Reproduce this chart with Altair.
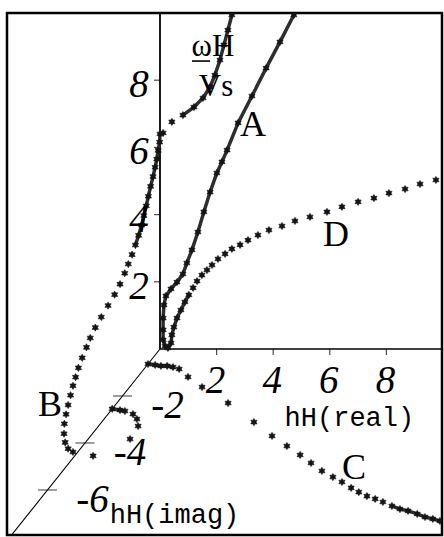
import altair as alt
import pandas as pd

# Oblique projection of the (Re hH, Im hH, omega*H/Vs) frame onto the page:
# one unit of Im hH moves a point KX units of Re hH sideways and KY units of omega downwards.
KX = 0.6625
KY = 0.6994
X_DOMAIN = [-5.406, 9.965]
Y_DOMAIN = [-5.536, 10.0]

# Branch A (Im hH = 0), from the top of the frame down to the origin
A_RE = [4.73, 4.24, 3.75, 3.25, 2.76, 2.37, 2.19, 2.01, 1.77, 1.55, 1.34, 1.13,
        0.95, 0.81, 0.60, 0.39, 0.21, 0.14, 0.11, 0.11, 0.11, 0.18, 0.28]
A_OM = [9.94, 9.14, 8.36, 7.53, 6.73, 5.92, 5.57, 5.24, 4.67, 4.08, 3.48, 2.95,
        2.56, 2.23, 1.99, 1.79, 1.58, 1.31, 0.92, 0.57, 0.27, 0.09, 0.03]

# Branch D (Im hH = 0), leaving the origin towards large Re hH
D_RE = [0.39, 0.42, 0.49, 0.60, 0.74, 0.88, 1.02, 1.17, 1.31, 1.48, 1.66, 1.84,
        2.05, 2.30, 2.54, 2.83, 3.11, 3.46, 3.85, 4.31, 4.77, 5.30, 5.90, 6.43,
        7.00, 7.56, 8.09, 8.66, 9.19, 9.75]
D_OM = [0.18, 0.42, 0.65, 0.92, 1.16, 1.40, 1.61, 1.82, 2.02, 2.20, 2.35, 2.50,
        2.68, 2.83, 2.98, 3.10, 3.24, 3.39, 3.54, 3.66, 3.81, 3.93, 4.08, 4.23,
        4.38, 4.49, 4.64, 4.76, 4.91, 5.03]

# Branch B (Re hH = 0), from the omega axis down to the Im hH axis
B_IM = [0.0, -0.02, -0.10, -0.17, -0.26, -0.37, -0.50, -0.62, -0.73, -0.86, -0.98,
        -1.14, -1.31, -1.49, -1.69, -1.88, -2.13, -2.42, -2.77, -3.13, -3.45, -3.72,
        -3.92, -4.15, -4.35, -4.50, -4.64, -4.77, -4.90, -5.01, -5.10, -5.12, -5.06,
        -4.90, -4.64]
B_OM = [6.40, 6.17, 5.98, 5.77, 5.59, 5.39, 5.19, 4.98, 4.77, 4.57, 4.37, 4.18,
        4.01, 3.85, 3.71, 3.57, 3.42, 3.31, 3.23, 3.14, 3.05, 2.93, 2.79, 2.64,
        2.48, 2.31, 2.15, 1.96, 1.76, 1.56, 1.34, 1.06, 0.76, 0.46, 0.18]

# Continuation of B above omega = 6.4 (Im hH = 0)
E_RE = [0.11, 0.42, 0.81, 1.20, 1.52, 1.77, 1.94, 2.12, 2.26, 2.40, 2.54]
E_OM = [6.43, 6.76, 6.96, 7.20, 7.47, 7.80, 8.15, 8.60, 9.05, 9.49, 9.94]

# Branch C (omega = 0), in the Re-Im plane
C_RE = [0.0, 0.28, 0.51, 0.73, 0.97, 1.24, 1.78, 2.56, 3.93, 5.38, 6.41, 7.22,
        7.94, 8.55, 9.16, 9.72, 10.18, 10.67, 11.06, 11.46, 11.83, 12.19, 12.62,
        12.99, 13.33, 13.74, 14.10, 14.43, 14.74]
C_IM = [-0.64, -0.68, -0.72, -0.72, -0.77, -0.85, -1.19, -1.62, -2.30, -3.11,
        -3.70, -4.13, -4.51, -4.85, -5.19, -5.45, -5.66, -5.91, -6.09, -6.26,
        -6.38, -6.51, -6.68, -6.81, -6.89, -7.02, -7.15, -7.23, -7.32]

# Short loop at omega = 0 between Im hH = -2.5 and -4.6
F_RE = [0.0, 0.31, 0.51, 0.88, 1.16, 1.40, 1.48, 0.65]
F_IM = [-2.55, -2.60, -2.64, -2.77, -2.98, -3.28, -3.83, -4.55]

OM_TICKS = [2, 4, 6, 8]
RE_TICKS = [2, 4, 6, 8]
IM_TICKS = [-2, -4, -6]

CURVE_NAMES = ["A", "B", "C", "D"]
NAME_RE = [3.29, 0.0, 10.21, 6.22]
NAME_IM = [0.0, -5.87, -5.06, 0.0]
NAME_OM = [6.67, 2.44, 0.0, 3.39]


def branch(name, re=None, im=None, om=None, runs=()):
    n = len(next(v for v in (re, im, om) if v is not None))
    re = re or [0.0] * n
    im = im or [0.0] * n
    om = om or [0.0] * n
    rows = []
    for k in range(n):
        run = None
        for i, (a, b) in enumerate(runs):
            if a <= k <= b:
                run = f"{name}{i}"
        rows.append({"curve": name, "k": k, "re": re[k], "im": im[k], "om": om[k], "run": run})
    return rows


AD_RE = A_RE + D_RE
AD_OM = A_OM + D_OM
rows = []
rows += branch("AD", re=AD_RE, om=AD_OM, runs=[(0, len(A_RE) + 6)])
rows += branch("E", re=E_RE, om=E_OM, runs=[(2, len(E_RE) - 1)])
rows += branch("B", im=B_IM, om=B_OM, runs=[(0, 12)])
rows += branch("C", re=C_RE, im=C_IM, runs=[(0, 4), (22, len(C_RE) - 1)])
rows += branch("F", re=F_RE, im=F_IM, runs=[(0, 2)])
pts = pd.DataFrame(rows)
dense = pts[pts["run"].notna()]

PROJ_X = f"datum.re + {KX}*datum.im"
PROJ_Y = f"datum.om + {KY}*datum.im"

X = alt.X("px:Q", scale=alt.Scale(domain=X_DOMAIN, nice=False, zero=False), axis=None)
Y = alt.Y("py:Q", scale=alt.Scale(domain=Y_DOMAIN, nice=False, zero=False), axis=None)


def projected(df):
    return alt.Chart(df).transform_calculate(px=PROJ_X, py=PROJ_Y)


STAR = ("M0,-1L0.29,-0.5L0.87,-0.5L0.58,0L0.87,0.5L0.29,0.5L0,1L-0.29,0.5"
        "L-0.87,0.5L-0.58,0L-0.87,-0.5L-0.29,-0.5Z")

# Axis lines: omega axis, Re axis (bottom of the box) and the oblique Im axis
axes_df = pd.DataFrame({
    "re": [0, 0, 0], "im": [0, 0, 0], "om": [0, 0, 0],
    "re2": [0, 10.5, 0], "im2": [0, 0, -8.2], "om2": [10.5, 0, 0],
    "w": [1.8, 1.6, 1.1],
})
axes = alt.Chart(axes_df).transform_calculate(
    px=PROJ_X, py=PROJ_Y,
    px2=f"datum.re2 + {KX}*datum.im2", py2=f"datum.om2 + {KY}*datum.im2",
).mark_rule(color="black", clip=True).encode(
    x=X, y=Y, x2="px2:Q", y2="py2:Q",
    strokeWidth=alt.StrokeWidth("w:Q", scale=None),
)

om_df = pd.DataFrame({"re": 0.0, "im": 0.0, "om": OM_TICKS, "t": [str(v) for v in OM_TICKS]})
re_df = pd.DataFrame({"re": RE_TICKS, "im": 0.0, "om": 0.0, "t": [str(v) for v in RE_TICKS]})
im_df = pd.DataFrame({"re": 0.0, "im": IM_TICKS, "om": 0.0, "t": [f"-{abs(v)}" for v in IM_TICKS]})

om_ticks = projected(om_df).mark_tick(orient="horizontal", size=6, thickness=1.2,
                                      xOffset=-3, color="black").encode(x=X, y=Y)
re_ticks = projected(re_df).mark_tick(orient="vertical", size=6, thickness=1.2,
                                      yOffset=3, color="black").encode(x=X, y=Y)
im_ticks = projected(im_df).mark_tick(orient="horizontal", size=19, thickness=1.1,
                                      color="black").encode(x=X, y=Y)

DIGITS = dict(font="Liberation Serif", fontStyle="italic", fontSize=39,
              align="center", baseline="middle", color="black")
om_labels = projected(om_df).mark_text(dx=-21, dy=5, **DIGITS).encode(x=X, y=Y, text="t:N")
re_labels = projected(re_df).mark_text(dx=-1, dy=32, **DIGITS).encode(x=X, y=Y, text="t:N")
im_labels = projected(im_df).mark_text(dx=45, dy=10, **DIGITS).encode(x=X, y=Y, text="t:N")

MONO = dict(font="Liberation Mono", fontSize=27, align="center", baseline="middle", color="black")
re_title = projected(pd.DataFrame({"re": [8.0], "im": [0.0], "om": [0.0], "t": ["hH(real)"]})) \
    .mark_text(dx=-37, dy=69, **MONO).encode(x=X, y=Y, text="t:N")
im_title = projected(pd.DataFrame({"re": [0.0], "im": [-6.0], "om": [0.0], "t": ["hH(imag)"]})) \
    .mark_text(dx=127, dy=25, **MONO).encode(x=X, y=Y, text="t:N")

# Omega-axis quantity written as the fraction omega*H over Vs
SERIF = dict(font="Liberation Serif", fontSize=31, align="center", baseline="middle", color="black")
unit_df = pd.DataFrame({"re": [1.87, 1.98], "im": [0.0, 0.0], "om": [8.99, 7.80], "t": ["ωH", "Vs"]})
unit_text = projected(unit_df).mark_text(**SERIF).encode(x=X, y=Y, text="t:N")
bar_df = pd.DataFrame({"re": [1.13], "im": [0.0], "om": [8.57], "re2": [1.77]})
unit_bar = projected(bar_df).transform_calculate(px2="datum.re2").mark_rule(
    color="black", strokeWidth=1.6).encode(x=X, y=Y, x2="px2:Q")

names_df = pd.DataFrame({"re": NAME_RE, "im": NAME_IM, "om": NAME_OM, "t": CURVE_NAMES})
names = projected(names_df).mark_text(font="Liberation Serif", fontSize=36, align="center",
                                      baseline="middle", color="black").encode(x=X, y=Y, text="t:N")

bands = projected(dense).mark_line(color="#2e2e2e", strokeWidth=3.5, clip=True).encode(
    x=X, y=Y, detail="run:N", order="k:Q")
stars = projected(pts).mark_point(shape=STAR, filled=True, size=52, color="#151515",
                                  stroke="#151515", strokeWidth=0.6,
                                  opacity=1, clip=True).encode(x=X, y=Y)

chart = alt.layer(
    axes, om_ticks, re_ticks, im_ticks,
    bands, stars,
    om_labels, re_labels, im_labels, re_title, im_title,
    unit_text, unit_bar, names,
).properties(
    width=435, height=522,
    padding={"left": 7, "top": 13, "right": 2, "bottom": 2},
    autosize="none",
    background="white",
).configure_view(stroke="black", strokeWidth=2.5)

chart.save("out.html", embed_options={"renderer": "svg", "actions": False})
